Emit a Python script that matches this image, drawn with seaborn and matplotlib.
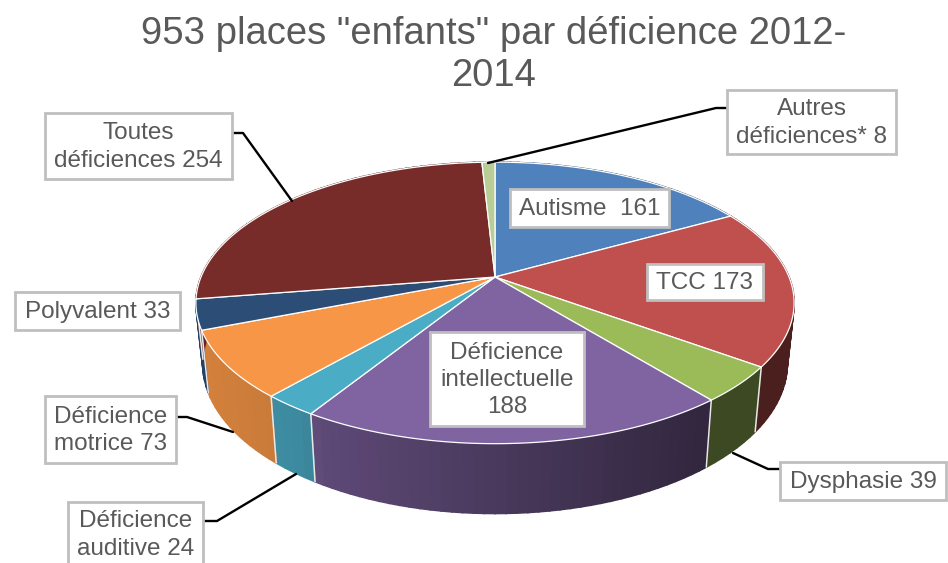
import numpy as np
import matplotlib
matplotlib.use("Agg")
import matplotlib.pyplot as plt
from matplotlib.patches import Rectangle
import seaborn as sns

# valeurs
noms = ["Autisme", "TCC", "Dysphasie", "Déficience intellectuelle", "Déficience auditive",
        "Déficience motrice", "Polyvalent", "Toutes déficiences", "Autres déficiences"]
places = [161, 173, 39, 188, 24, 73, 33, 254, 8]
couleurs = ["#4f81bd", "#c0504d", "#9bbb59", "#8064a2", "#4bacc6",
            "#f79646", "#2c4d75", "#772c2a", "#b9cd96"]
titre = '953 places "enfants" par déficience 2012-\n2014'

etiquettes = ["Autisme  161", "TCC 173", "Dysphasie 39", "Déficience\nintellectuelle\n188",
              "Déficience\nauditive 24", "Déficience\nmotrice 73", "Polyvalent 33",
              "Toutes\ndéficiences 254", "Autres\ndéficiences* 8"]

# cadres des etiquettes : x0, y0, x1, y1 en pixels
cadres = [(510, 189, 669, 227), (647, 264, 763, 300), (780, 462, 946, 500), (430, 332, 584, 426),
          (68, 502, 203, 566), (45, 396, 176, 463), (15, 292, 180, 330), (45, 113, 232, 179),
          (727, 90, 896, 154)]

# traits de rappel
traits = [
    ([233, 243, 292], [133, 133, 201]),
    ([727, 716, 488], [108, 108, 163]),
    ([177, 187, 233], [417, 417, 432]),
    ([204, 217, 296], [521, 521, 474]),
    ([780, 768, 733], [469, 469, 453]),
]

sns.set_theme(style="white")
plt.rcParams["font.family"] = ["Liberation Sans", "DejaVu Sans"]
palette = sns.color_palette(couleurs)

fig, ax = plt.subplots(figsize=(9.48, 5.63), dpi=100)
fig.subplots_adjust(0, 0, 1, 1)
ax.set_xlim(0, 948)
ax.set_ylim(563, 0)
ax.axis("off")


# disque vu en perspective, angle compte depuis le haut dans le sens horaire
def haut(t):
    d = 1 + 0.184 * np.cos(t)
    return 495 + 294 * np.sin(t) / d, 277 - 136 * np.cos(t) / d


def bas(t):
    x, y = haut(t)
    return 495 + 0.977 * (x - 495), 336 + 1.065 * (y - 277)


def ombre(x):
    return np.interp(x, [210, 300, 320, 700, 790], [0.85, 0.80, 0.73, 0.39, 0.39])


bornes = np.cumsum([0] + places) / sum(places) * 2 * np.pi

# parois
for i, c in enumerate(palette):
    n = max(int((bornes[i + 1] - bornes[i]) / 0.03), 2)
    t = np.linspace(bornes[i], bornes[i + 1], n)
    xh, yh = haut(t)
    xb, yb = bas(t)
    for j in range(n - 1):
        f = ombre((xh[j] + xh[j + 1]) / 2)
        teinte = tuple(np.array(c) * f)
        ax.fill([xh[j], xh[j + 1], xb[j + 1], xb[j]], [yh[j], yh[j + 1], yb[j + 1], yb[j]],
                facecolor=teinte, edgecolor=teinte, lw=1.2, zorder=2)

for b in bornes[:-1]:
    xh, yh = haut(b)
    xb, yb = bas(b)
    ax.plot([xh, xb], [yh, yb], color="#e8e8e8", lw=1.1, zorder=3)

# dessus
for i, c in enumerate(palette):
    t = np.linspace(bornes[i], bornes[i + 1], 120)
    x, y = haut(t)
    ax.fill(np.r_[495, x], np.r_[277, y], facecolor=c, edgecolor="white", lw=0.9, zorder=4)

for xs, ys in traits:
    ax.plot(xs, ys, color="black", lw=1.7, zorder=5, solid_joinstyle="round")

for texte, (x0, y0, x1, y1) in zip(etiquettes, cadres):
    ax.add_patch(Rectangle((x0, y0), x1 - x0, y1 - y0, facecolor="white",
                           edgecolor="#bfbfbf", lw=2, zorder=6))
    ax.text((x0 + x1) / 2, (y0 + y1) / 2 + 1, texte, ha="center", va="center", fontsize=17.5,
            color="#595959", linespacing=1.32, zorder=7)

ax.text(494, 55, titre, ha="center", va="center", fontsize=27.5, color="#595959", linespacing=1.22)

fig.savefig("out.png", dpi=100)
